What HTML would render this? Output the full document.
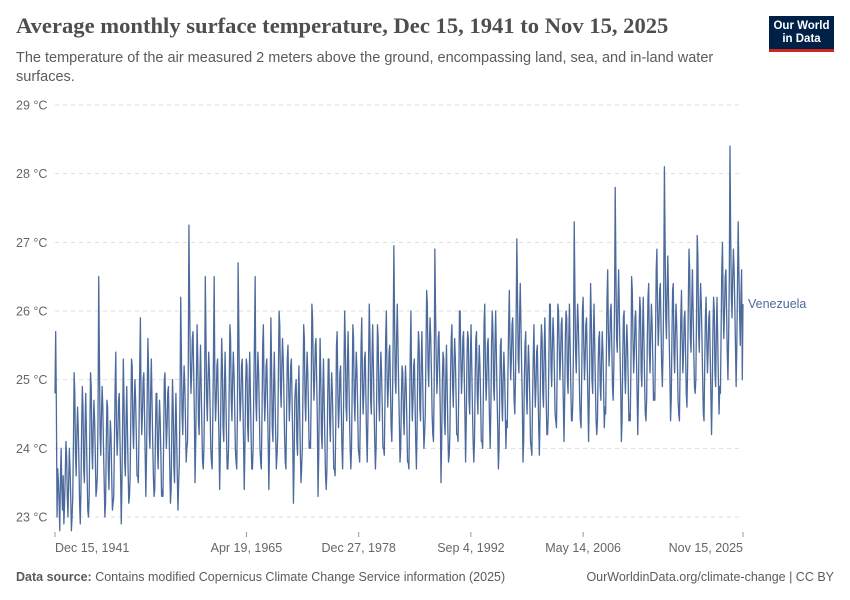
<!DOCTYPE html>
<html><head><meta charset="utf-8"><style>
body{margin:0;background:#fff;width:850px;height:600px;overflow:hidden;font-family:"Liberation Sans",sans-serif}
.t{position:absolute;white-space:nowrap}
</style></head><body>
<div class="t" style="left:16px;top:13px;font-family:'Liberation Serif',serif;font-size:22.6px;font-weight:bold;color:#4e4e4e">Average monthly surface temperature, Dec 15, 1941 to Nov 15, 2025</div>
<div class="t" style="left:16px;top:49px;font-size:14.5px;color:#5b5b5b;line-height:19px;white-space:normal;width:730px">The temperature of the air measured 2 meters above the ground, encompassing land, sea, and in-land water surfaces.</div>
<div style="position:absolute;left:769px;top:16px;width:65px;background:#002147;border-bottom:3px solid #ce261e;color:#fff;font-size:11.5px;font-weight:bold;text-align:center;line-height:12.5px;padding-top:4px;box-sizing:content-box;height:29px">Our World<br>in Data</div>
<svg id="chart" width="850" height="600" style="position:absolute;left:0;top:0"></svg>
<div class="t" style="left:16px;top:570px;font-size:12.5px;color:#5b5b5b"><b>Data source:</b> Contains modified Copernicus Climate Change Service information (2025)</div>
<div class="t" style="right:16px;top:570px;font-size:12.5px;color:#5b5b5b">OurWorldinData.org/climate-change | CC BY</div>
<script>
const yTicks=[23,24,25,26,27,28,29];
const xTickLabels=["Dec 15, 1941","Apr 19, 1965","Dec 27, 1978","Sep 4, 1992","May 14, 2006","Nov 15, 2025"];
const xTickYears=[1941.95,1965.3,1978.99,1992.68,2006.37,2025.87];
const startYear=1941.95;
const seriesName="Venezuela";
const temps=[24.8,
25.7,24.6,23.0,23.7,23.5,23.2,22.8,23.6,24.0,23.4,23.1,23.6,
22.9,23.2,23.6,24.1,23.9,23.3,23.0,23.5,24.0,23.7,23.3,22.8,
23.0,23.3,24.1,25.1,24.8,23.9,23.6,24.2,24.6,24.3,23.8,23.2,
22.9,23.4,24.3,24.9,24.6,23.7,23.5,24.3,24.8,24.2,23.6,23.1,
23.0,23.3,24.2,25.1,24.9,24.0,23.7,24.3,24.7,24.4,23.9,23.3,
23.4,23.6,24.5,26.5,25.3,24.2,23.9,24.5,24.9,24.6,24.0,23.5,
23.0,23.2,24.0,24.7,24.6,23.7,23.4,24.0,24.4,24.2,23.6,23.1,
23.2,23.3,24.1,24.9,25.4,24.3,23.9,24.2,24.7,24.8,24.2,23.6,
22.9,23.5,24.4,25.3,24.7,23.8,23.6,24.4,24.9,24.3,23.7,23.2,
23.3,23.6,24.5,25.3,25.2,24.3,24.0,24.6,25.0,24.7,24.2,23.6,
23.6,23.5,24.3,25.2,25.9,24.7,24.2,24.5,25.0,25.1,24.5,23.9,
23.3,23.9,24.8,25.6,25.1,24.2,24.0,24.8,25.3,24.7,24.1,23.6,
23.3,23.4,24.2,24.8,24.8,24.0,23.7,24.3,24.7,24.4,23.9,23.3,
23.4,23.3,24.1,25.0,25.1,24.5,24.0,24.3,24.8,24.9,24.3,23.7,
23.2,23.4,24.3,25.0,24.6,23.7,23.5,24.3,24.8,24.2,23.6,23.1,
23.5,23.8,24.7,26.2,25.4,24.5,24.2,24.8,25.2,24.9,24.4,23.8,
24.0,24.1,25.0,27.25,26.2,25.3,24.8,25.1,25.6,25.7,25.1,24.5,
23.5,24.1,25.0,25.8,25.3,24.4,24.2,25.0,25.5,24.9,24.3,23.8,
23.7,24.0,24.9,26.5,25.6,24.7,24.4,25.0,25.4,25.1,24.6,24.0,
23.8,23.7,24.5,25.4,26.5,24.9,24.4,24.7,25.2,25.3,24.7,24.1,
23.4,24.0,24.9,25.6,25.2,24.3,24.1,24.9,25.4,24.8,24.2,23.7,
23.7,24.0,24.9,25.8,25.6,24.7,24.4,25.0,25.4,25.1,24.6,24.0,
23.8,23.7,24.5,26.7,25.8,24.9,24.4,24.7,25.2,25.3,24.7,24.1,
23.4,24.0,24.9,25.3,25.2,24.3,24.1,24.9,25.4,24.8,24.2,23.7,
23.7,24.0,24.9,25.6,26.5,24.7,24.4,25.0,25.4,25.1,24.6,24.0,
23.8,23.7,24.5,25.5,25.8,24.9,24.4,24.7,25.2,25.3,24.7,24.1,
23.4,24.0,24.9,25.9,25.2,24.3,24.1,24.9,25.4,24.8,24.2,23.7,
23.9,24.2,25.1,26.0,25.8,24.9,24.6,25.2,25.6,25.3,24.8,24.2,
23.8,23.7,24.5,25.3,25.5,24.9,24.4,24.7,25.2,25.3,24.7,24.1,
23.2,23.8,24.7,24.9,25.0,24.1,23.9,24.7,25.2,24.6,24.0,23.5,
23.7,24.0,24.9,25.8,25.6,24.7,24.4,25.0,25.4,25.1,24.6,24.0,
24.1,24.0,24.8,26.1,25.9,25.2,24.7,25.0,25.5,25.6,25.0,24.4,
23.3,23.9,24.8,25.6,25.1,24.2,24.0,24.8,25.3,24.7,24.1,23.6,
23.4,23.7,24.6,25.3,25.3,24.4,24.1,24.7,25.1,24.8,24.3,23.7,
23.7,23.6,24.4,25.5,25.7,24.8,24.3,24.6,25.1,25.2,24.6,24.0,
23.7,24.3,25.2,26.0,25.5,24.6,24.4,25.2,25.7,25.1,24.5,24.0,
23.7,24.0,24.9,25.8,25.6,24.7,24.4,25.0,25.4,25.1,24.6,24.0,
23.9,23.8,24.6,25.5,25.9,25.0,24.5,24.8,25.3,25.4,24.8,24.2,
23.8,24.4,25.3,26.1,25.6,24.7,24.5,25.3,25.8,25.2,24.6,24.1,
23.7,24.0,24.9,25.8,25.6,24.7,24.4,25.0,25.4,25.1,24.6,24.0,
24.0,23.9,24.7,25.6,26.0,25.1,24.6,24.9,25.4,25.5,24.9,24.3,
24.1,24.7,25.6,26.95,25.9,25.0,24.8,25.6,26.1,25.5,24.9,24.4,
23.8,24.0,24.7,25.2,25.1,24.5,24.2,24.8,25.2,24.9,24.4,23.8,
23.8,23.7,24.5,25.4,26.0,24.9,24.4,24.7,25.2,25.3,24.7,24.1,
23.7,24.3,25.2,25.7,25.5,24.6,24.4,25.2,25.7,25.1,24.5,24.0,
24.2,24.5,25.4,26.3,26.1,25.2,24.9,25.5,25.9,25.6,25.1,24.5,
24.2,24.1,24.9,26.9,26.0,25.3,24.8,25.1,25.6,25.7,25.1,24.5,
23.5,24.1,25.0,25.4,25.3,24.4,24.2,25.0,25.5,24.9,24.3,23.8,
23.9,24.2,25.1,25.6,25.8,24.9,24.6,25.2,25.6,25.3,24.8,24.2,
24.2,24.1,24.9,26.0,26.0,25.3,24.8,25.1,25.6,25.7,25.1,24.5,
23.8,24.4,25.3,25.7,25.6,24.7,24.5,25.3,25.8,25.2,24.6,24.1,
23.8,24.1,25.0,25.6,25.7,24.8,24.5,25.1,25.5,25.2,24.7,24.1,
24.1,24.0,24.8,25.8,26.1,25.2,24.7,25.0,25.5,25.6,25.0,24.4,
24.0,24.6,25.5,26.0,25.7,24.9,24.7,25.5,26.0,25.4,24.8,24.3,
23.7,24.0,24.9,25.5,25.6,24.7,24.4,25.0,25.4,25.1,24.6,24.0,
24.4,24.3,25.1,25.8,26.3,25.5,25.0,25.3,25.8,25.9,25.3,24.7,
24.5,25.0,25.9,27.05,26.2,25.3,25.1,25.9,26.4,25.8,25.2,24.7,
23.8,24.1,25.0,25.5,25.7,24.8,24.5,25.1,25.5,25.2,24.7,24.1,
24.0,23.9,24.7,25.3,25.8,25.1,24.6,24.9,25.4,25.5,24.9,24.3,
23.9,24.5,25.4,25.8,25.6,24.8,24.6,25.4,25.9,25.3,24.7,24.2,
24.2,24.5,25.4,26.1,26.1,25.2,24.9,25.5,25.9,25.6,25.1,24.5,
24.4,24.3,25.1,26.1,26.0,25.5,25.0,25.3,25.8,25.9,25.3,24.7,
24.1,24.7,25.6,26.0,25.9,25.0,24.8,25.6,26.1,25.5,24.9,24.4,
24.4,24.7,25.6,27.3,26.3,25.4,25.1,25.7,26.1,25.8,25.3,24.7,
24.4,24.3,25.1,26.0,26.2,25.5,25.0,25.3,25.8,25.9,25.3,24.7,
24.1,24.7,25.6,26.4,25.9,25.0,24.8,25.6,26.1,25.5,24.9,24.4,
24.2,24.4,25.2,25.6,25.7,24.9,24.7,25.3,25.7,25.4,24.9,24.3,
24.6,24.5,25.3,26.2,26.6,25.7,25.2,25.5,26.0,26.1,25.5,24.9,
24.7,25.2,26.1,27.8,26.6,25.6,25.4,26.1,26.6,26.0,25.4,24.9,
24.1,24.4,25.3,25.9,26.0,25.1,24.8,25.4,25.8,25.5,25.0,24.4,
24.5,24.4,25.2,26.5,26.3,25.6,25.1,25.4,25.9,26.0,25.4,24.8,
24.2,24.8,25.7,26.2,26.0,25.1,24.9,25.7,26.2,25.6,25.0,24.5,
24.4,24.7,25.6,26.2,26.4,25.4,25.1,25.7,26.1,25.8,25.3,24.7,
24.8,24.7,25.6,26.6,26.9,26.0,25.5,25.8,26.3,26.4,25.8,25.2,
24.9,25.4,26.3,28.1,27.0,25.9,25.6,26.3,26.8,26.2,25.6,25.1,
24.4,24.7,25.6,26.3,26.4,25.4,25.1,25.7,26.1,25.8,25.3,24.7,
24.5,24.4,25.2,25.9,26.3,25.6,25.1,25.4,25.9,26.0,25.4,24.8,
24.6,25.2,26.1,26.9,26.6,25.6,25.4,26.1,26.6,26.0,25.4,24.9,
24.8,25.0,25.9,27.1,26.8,25.7,25.4,26.0,26.4,26.1,25.6,25.0,
24.5,24.4,25.2,25.9,26.2,25.6,25.1,25.4,25.9,26.0,25.4,24.8,
24.2,24.8,25.7,26.2,26.0,25.1,24.9,25.7,26.2,25.6,25.0,24.5,
24.9,24.8,25.7,26.6,27.0,26.1,25.6,26.0,26.5,26.6,26.0,25.4,
25.0,25.6,26.5,28.4,27.1,26.2,25.9,26.5,26.9,26.6,26.1,25.5,
24.9,25.5,26.4,27.3,26.6,26.0,25.5,26.2,26.6,25.0,26.1];

const NS="http://www.w3.org/2000/svg";
const svg=document.getElementById('chart');
const X0=55,X1=743,Y29=105,Y23=517;
const xMin=xTickYears[0],xMax=xTickYears[xTickYears.length-1];
function xs(t){return X0+(t-xMin)/(xMax-xMin)*(X1-X0);}
function ys(v){return Y23-(v-23)/(29-23)*(Y23-Y29);}
function mk(tag,attrs){const e=document.createElementNS(NS,tag);for(const k in attrs)e.setAttribute(k,attrs[k]);svg.appendChild(e);return e;}
yTicks.forEach(v=>{
  const g=mk('line',{x1:X0,x2:X1,y1:ys(v),y2:ys(v),stroke:'#dddddd','stroke-dasharray':'4,4'});
  
  
  const t=mk('text',{x:16,y:ys(v)+4.5,fill:'#666','font-size':'12.5','font-family':'Liberation Sans, sans-serif'});
  t.textContent=v+' °C';
  
  
});
xTickYears.forEach((yr,i)=>{
  const x=xs(yr);
  const l=mk('line',{x1:x,x2:x,y1:532,y2:537,stroke:'#999'});
  
  
  const anchor=i===0?'start':(i===xTickYears.length-1?'end':'middle');
  const t=mk('text',{x:x,y:552,fill:'#666','font-size':'12.5','text-anchor':anchor,'font-family':'Liberation Sans, sans-serif'});
  t.textContent=xTickLabels[i];
  
  
});
let d='';
temps.forEach((v,i)=>{d+=(i?'L':'M')+xs(startYear+i/12).toFixed(2)+','+ys(v).toFixed(2);});
const p=mk('path',{d:d,fill:'none',stroke:'#4c6a9c','stroke-width':'1.3','stroke-linejoin':'round'});


const lbl=mk('text',{x:748,y:ys(temps[temps.length-1])+4,fill:'#4c6a9c','font-size':'12.5','font-family':'Liberation Sans, sans-serif'});
lbl.textContent=seriesName;


</script>
</body></html>
